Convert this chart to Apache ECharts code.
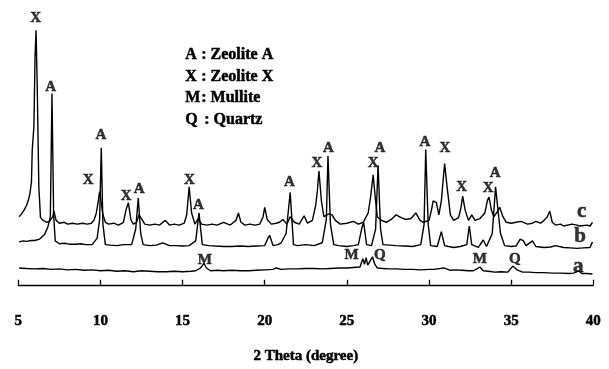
<!DOCTYPE html>
<html>
<head>
<meta charset="utf-8">
<script src="https://cdn.jsdelivr.net/npm/echarts@6/dist/echarts.min.js"></script>
<style>
  html, body { margin: 0; padding: 0; background: #fff; }
  #chart { width: 609px; height: 369px; }
</style>
</head>
<body>
<div id="chart"></div>
<script>
// XRD patterns, [2theta, intensity offset units]
const traceA = [
  [5.05,18],[5.5,17.5],[6,17],[6.5,17.5],[7,16.5],[7.5,17],[8,16],[8.5,16.5],[9,15.5],[9.5,16],[10,15],[10.5,15.5],
  [11,14.5],[11.5,15],[12,14],[12.5,15],[13,14.5],[13.5,14],[14,14],[14.5,14.5],[15,14],[15.5,14.5],[15.8,15],
  [16.1,18],[16.3,23],[16.45,18],[16.7,15],[17.1,15.5],[17.5,15],[18,15.5],[18.5,15],[19,15],[19.5,15.5],[20,16],
  [20.5,16.5],[20.7,18],[21,16.5],[21.5,17],[22,17],[22.5,17.5],[23,17.5],[23.5,17],[24,17.5],[24.5,18],[25,18],
  [25.4,18.5],[25.8,19],[25.97,28],[26.07,22],[26.17,29],[26.27,21],[26.4,25],[26.56,30],[26.7,22],[26.85,18],
  [27.2,17.5],[27.5,17],[28,17],[28.5,16.5],[29,16.5],[29.5,16],[30,16.5],[30.3,16.5],[30.9,18],[31.3,15.5],
  [31.6,16],[32,15.5],[32.4,15],[32.7,15],[33.1,19],[33.3,15],[33.6,14.5],[34,13.5],[34.4,14],[34.8,13.5],
  [35.1,20],[35.35,16],[35.7,13.5],[36.1,13.5],[36.5,13],[37,13],[37.5,12.5],[38,12.5],[38.5,12],[38.8,12.5],
  [39.1,15],[39.3,12],[39.6,12],[39.95,11.5]
]
const traceB = [
  [5.05,46],[5.3,47],[5.5,46.5],[5.8,47.5],[6,47.5],[6.3,49],[6.6,54],[6.8,62],[6.95,73],[7.05,205],[7.15,75],
  [7.25,47],[7.5,44],[7.8,44.5],[8.1,43.5],[8.5,43.5],[8.8,44],[9.1,43],[9.5,43],[9.8,50],[9.95,70],[10.05,147],
  [10.15,65],[10.3,43],[10.6,42.5],[11,42],[11.4,43],[11.9,43],[12.15,60],[12.3,93],[12.45,55],[12.6,43],[13,42],
  [13.4,42.5],[13.8,45],[13.9,47],[14.2,42],[14.6,42],[15,41.5],[15.4,42],[15.8,47],[16,77],[16.2,43],[16.6,42],
  [17,41.5],[17.5,41],[18,41],[18.5,41.5],[19,41],[19.5,41.5],[20,42],[20.2,50],[20.3,53],[20.5,42],[20.8,43],
  [21,45],[21.3,55],[21.55,99],[21.75,43],[22,42],[22.5,43],[23,42],[23.5,45],[23.75,70],[23.85,138],[24,65],
  [24.2,43],[24.5,42],[25,41],[25.4,42],[25.7,43],[25.9,60],[26.02,67],[26.2,43],[26.5,42],[26.75,60],[26.9,128],
  [27.05,60],[27.2,43],[27.6,42.5],[28,42],[28.5,41.5],[29,41],[29.5,43],[29.7,65],[29.8,145],[29.95,65],[30.1,42],
  [30.5,41],[30.75,57],[30.95,42],[31.2,41],[31.5,40],[31.9,41],[32.3,43],[32.45,63],[32.6,43],[33,40],[33.3,48],
  [33.5,41],[33.85,55],[34.05,105],[34.35,55],[34.6,42],[35,41],[35.3,41.5],[35.55,49],[35.75,47],[35.9,42],
  [36.3,47],[36.5,41],[37,40],[37.4,40.5],[37.7,42],[38.2,40],[38.6,39.5],[39,39],[39.4,39.5],[39.8,40],[39.95,46]
]
const traceC = [
  [5.05,73],[5.2,76],[5.35,80],[5.5,85],[5.6,90],[5.7,97],[5.8,110],[5.85,145],[5.95,170],[6.02,245],[6.08,273],
  [6.15,215],[6.25,105],[6.35,72],[6.5,69],[6.6,68],[6.75,67],[6.9,68],[7,70],[7.1,73],[7.17,79],[7.3,69],[7.5,66],
  [7.8,67],[8,65],[8.3,66],[8.6,65],[8.9,66],[9.2,65],[9.45,66],[9.6,69],[9.75,77],[9.87,90],[9.95,100],[10.05,88],
  [10.15,75],[10.3,67],[10.5,65],[10.8,66],[11.1,64],[11.4,67],[11.55,80],[11.7,88],[11.85,70],[12,65],[12.2,67],
  [12.35,75],[12.5,71],[12.7,65],[13,64],[13.3,65],[13.6,64],[13.95,69],[14.2,64],[14.5,65],[14.8,64],[15.1,66],
  [15.25,75],[15.4,105],[15.55,77],[15.75,65],[15.95,71],[16.15,65],[16.5,64],[16.8,65],[17.1,64],[17.5,67],
  [17.9,64],[18.25,69],[18.4,77],[18.55,67],[18.8,64],[19.1,65],[19.4,64],[19.7,65],[19.9,73],[20,83],[20.15,70],
  [20.4,65],[20.7,66],[20.9,67],[21.1,70],[21.35,65],[21.55,73],[21.8,67],[22.1,65],[22.4,74],[22.6,66],[22.9,69],
  [23.1,85],[23.2,100],[23.3,122],[23.45,90],[23.6,73],[23.9,76],[24.1,75],[24.3,69],[24.6,65],[25,66],[25.4,68],
  [25.7,65],[26,67],[26.3,77],[26.45,95],[26.6,118],[26.72,95],[26.85,73],[27.1,69],[27.4,67],[27.7,70],[28,75],
  [28.3,72],[28.6,70],[28.9,71],[29.2,77],[29.45,69],[29.65,67],[30,69],[30.15,80],[30.25,90],[30.45,88],[30.6,75],
  [30.75,90],[30.95,130],[31.1,105],[31.3,75],[31.5,69],[31.8,72],[31.95,83],[32.05,95],[32.2,80],[32.4,69],
  [32.6,75],[32.8,69],[33.1,71],[33.4,77],[33.55,90],[33.65,94],[33.8,80],[33.95,73],[34.15,78],[34.3,83],[34.5,73],
  [34.7,67],[35,66],[35.3,67],[35.6,68],[36,65],[36.3,66],[36.5,68],[36.8,66],[37,69],[37.2,73],[37.35,79],
  [37.5,67],[37.7,64],[38,65],[38.2,63],[38.7,65],[39,64],[39.2,63],[39.6,64],[39.8,63],[39.95,67]
]

// phase labels above peaks: position (2theta, intensity) and letter
const peakTheta = [6.06, 6.97, 9.26, 10.03, 11.57, 12.35, 15.42, 15.96, 21.5, 23.18, 23.87, 26.6, 27.01, 29.75, 30.97, 31.99, 33.6, 34.02,
                   16.36, 25.29, 27.01, 33.09, 35.22]
const peakLevel = [286, 211.7, 112, 160, 95, 103, 111.7, 85.7, 110, 130, 146, 130, 146, 153.3, 146.7, 105, 103.3, 120,
                   26.7, 31.7, 31.7, 27.7, 27.7]
const peakText  = ['X', 'A', 'X', 'A', 'X', 'A', 'X', 'A', 'A', 'X', 'A', 'X', 'A', 'A', 'X', 'X', 'X', 'A',
                   'M', 'M', 'Q', 'M', 'Q']

// sample names at the right end of each trace
const sampleTheta = [39.29, 39.19, 39.08]
const sampleLevel = [78.3, 51.7, 20]
const sampleText  = ['c', 'b', 'a']

const xTicks = { min: 5, max: 40, interval: 5 }

const legendLetters = ['A', 'X', 'M', 'Q']
const legendNames = [': Zeolite A', ': Zeolite X', ': Mullite', ': Quartz']

const serif = '"Liberation Serif", "Times New Roman", serif'
// a thin outline in the same colour makes the serif text as heavy as the scanned figure
const heavy = { textBorderColor: '#000', textBorderWidth: 0.5 }

const chart = echarts.init(document.getElementById('chart'), null, { renderer: 'canvas' })

const lineStyle = { color: '#000', width: 1.4 }
const mkLine = data => ({ type: 'line', data, symbol: 'none', lineStyle, silent: true, z: 2 })

const legendGraphics = []
legendLetters.forEach((l, i) => {
  const top = 47 + i * 21.5
  legendGraphics.push({ type: 'text', left: 185, top, style: { text: l, font: `bold 16px ${serif}`, fill: '#000', stroke: '#000', lineWidth: 0.5 } })
  legendGraphics.push({ type: 'text', left: l === 'Q' ? 204 : 201, top, style: { text: legendNames[i], font: `bold 16px ${serif}`, fill: '#000', stroke: '#000', lineWidth: 0.5 } })
})

chart.setOption({
  animation: false,
  grid: { left: 18.3, right: 15.7, top: 5, bottom: 64 },
  xAxis: {
    type: 'value', min: xTicks.min, max: xTicks.max, interval: xTicks.interval,
    axisLine: { lineStyle: { color: '#000', width: 1.3 } },
    axisTick: { inside: true, length: 5, lineStyle: { color: '#000', width: 1.3 } },
    axisLabel: { color: '#000', fontFamily: serif, fontWeight: 'bold', fontSize: 15, margin: 29, ...heavy },
    splitLine: { show: false },
    name: '2 Theta (degree)', nameLocation: 'middle', nameGap: 64,
    nameTextStyle: { color: '#000', fontFamily: serif, fontWeight: 'bold', fontSize: 15, ...heavy },
  },
  yAxis: { type: 'value', min: 0, max: 300, show: false },
  series: [
    mkLine(traceA),
    mkLine(traceB),
    mkLine(traceC),
    {
      type: 'scatter', symbolSize: 0, silent: true, z: 5,
      data: peakTheta.map((t, i) => [t, peakLevel[i], peakText[i]]),
      label: {
        show: true, position: [0, 0], align: 'center', verticalAlign: 'middle',
        formatter: p => p.data[2], color: '#000', fontFamily: serif, fontWeight: 'bold', fontSize: 15, ...heavy,
      },
    },
    {
      type: 'scatter', symbolSize: 0, silent: true, z: 5,
      data: sampleTheta.map((t, i) => [t, sampleLevel[i], sampleText[i]]),
      label: {
        show: true, position: [0, 0], align: 'center', verticalAlign: 'middle',
        formatter: p => p.data[2], color: '#000', fontFamily: serif, fontWeight: 'bold', fontSize: 21, ...heavy,
      },
    },
  ],
  graphic: legendGraphics,
})
</script>
</body>
</html>
